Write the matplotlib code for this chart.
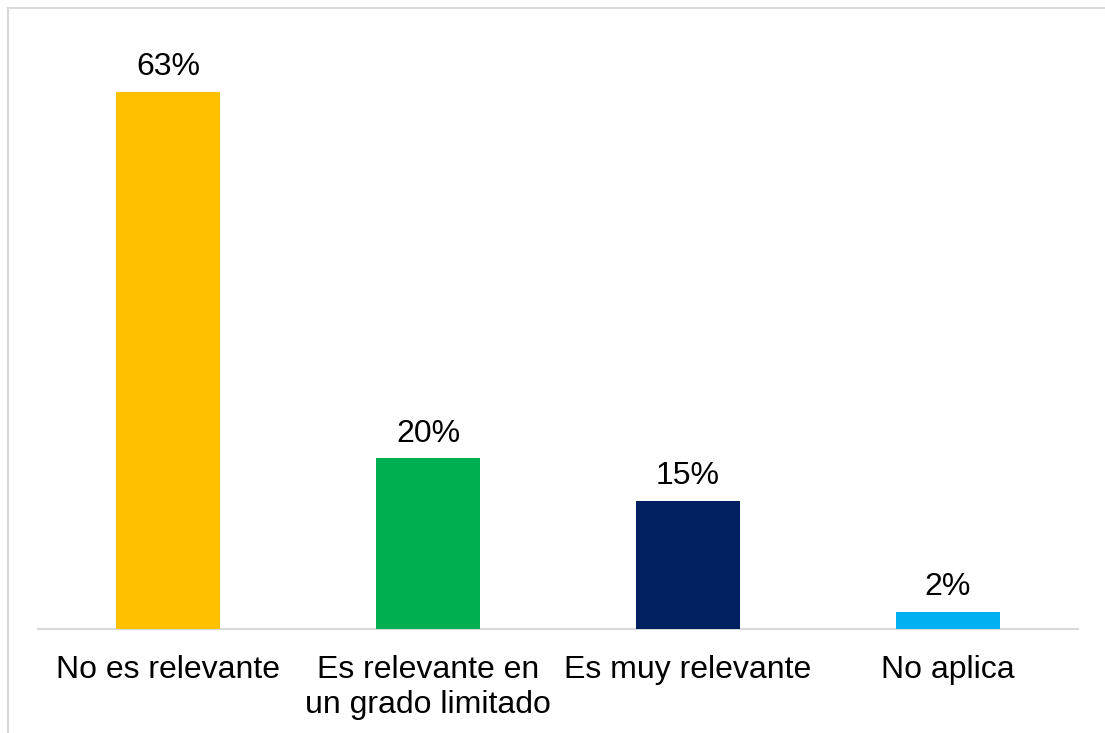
import matplotlib.pyplot as plt
from matplotlib.lines import Line2D

categorias = ["No es relevante", "Es relevante en\nun grado limitado", "Es muy relevante", "No aplica"]
porcentajes = [63, 20, 15, 2]
colores = ["#FFC000", "#00B050", "#002060", "#00B0F0"]

GRIS = "#d9d9d9"

plt.rcParams["font.family"] = ["Liberation Sans", "DejaVu Sans"]

fig = plt.figure(figsize=(11.05, 7.33), dpi=100)
ax = fig.add_axes([38 / 1105, 104 / 733, 1040 / 1105, 597 / 733])

x = range(len(categorias))
bars = ax.bar(x, porcentajes, width=0.4, color=colores, zorder=3)
ax.set_xlim(-0.5, len(categorias) - 0.5)
ax.set_ylim(0, 70)

for bar, val in zip(bars, porcentajes):
    ax.annotate(f"{val}%", (bar.get_x() + bar.get_width() / 2, bar.get_height()),
                xytext=(0, 7), textcoords="offset points",
                ha="center", va="bottom", fontsize=23, color="black")

ax.set_xticks(list(x))
ax.set_xticklabels(categorias, fontsize=23, linespacing=1.22)
ax.tick_params(axis="x", length=0, pad=19)
ax.set_yticks([])

for side in ["top", "right", "left"]:
    ax.spines[side].set_visible(False)
ax.spines["bottom"].set_color(GRIS)
ax.spines["bottom"].set_linewidth(1.5)

# marco exterior del gráfico
fig.add_artist(Line2D([8 / 1105, 8 / 1105], [0, 1 - 8 / 733], transform=fig.transFigure,
                      color=GRIS, linewidth=1.5))
fig.add_artist(Line2D([8 / 1105, 1], [1 - 8 / 733, 1 - 8 / 733], transform=fig.transFigure,
                      color=GRIS, linewidth=1.5))

fig.savefig("out.png", dpi=100)
